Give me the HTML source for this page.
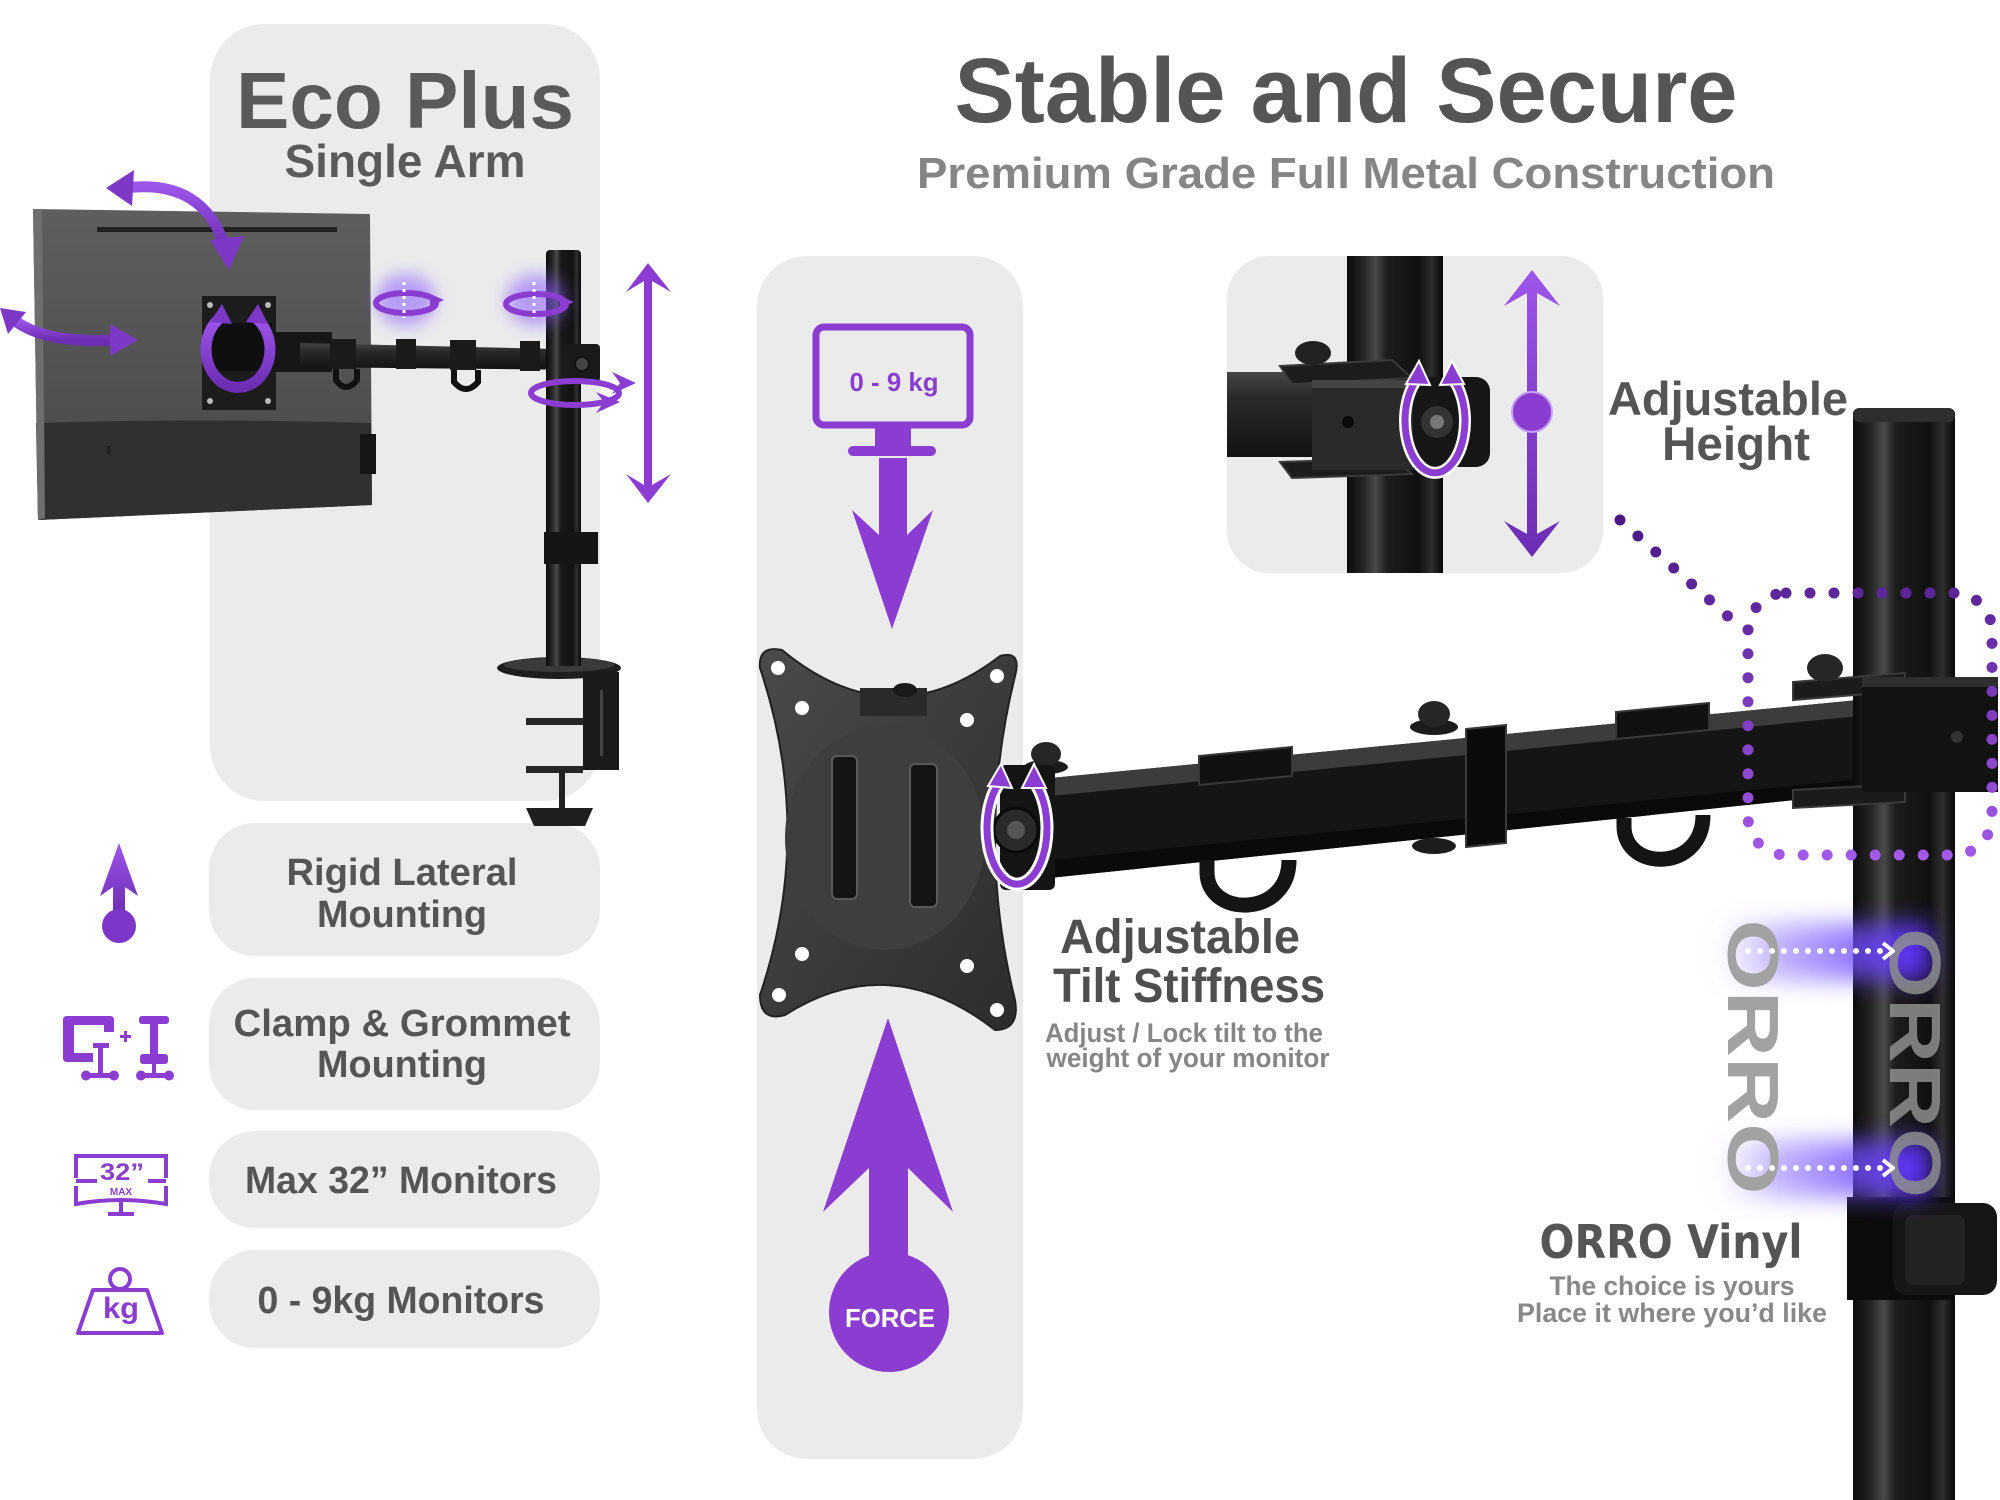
<!DOCTYPE html>
<html><head><meta charset="utf-8"><style>
html,body{margin:0;padding:0;background:#fff;}
svg{display:block;}
text{font-family:"Liberation Sans",Arial,sans-serif;}
</style></head><body>
<svg width="2000" height="1500" viewBox="0 0 2000 1500" xmlns="http://www.w3.org/2000/svg">
<defs>
 <linearGradient id="pole" x1="0" x2="1" y1="0" y2="0">
  <stop offset="0" stop-color="#0a0a0a"/>
  <stop offset="0.18" stop-color="#262626"/>
  <stop offset="0.3" stop-color="#4a4a4a"/>
  <stop offset="0.42" stop-color="#1c1c1c"/>
  <stop offset="0.75" stop-color="#101010"/>
  <stop offset="0.88" stop-color="#2e2e2e"/>
  <stop offset="1" stop-color="#070707"/>
 </linearGradient>
 <linearGradient id="purp" x1="0" y1="0" x2="0" y2="1">
  <stop offset="0" stop-color="#9d55ea"/>
  <stop offset="1" stop-color="#6c2cb3"/>
 </linearGradient>
 <linearGradient id="tube" x1="0" y1="0" x2="0" y2="1">
  <stop offset="0" stop-color="#454545"/>
  <stop offset="0.3" stop-color="#2a2a2a"/>
  <stop offset="1" stop-color="#121212"/>
 </linearGradient>
 <linearGradient id="dots" gradientUnits="userSpaceOnUse" x1="0" y1="520" x2="0" y2="860">
  <stop offset="0" stop-color="#4a1785"/>
  <stop offset="1" stop-color="#a45ae8"/>
 </linearGradient>
 <linearGradient id="mon" x1="0" y1="0" x2="0" y2="1">
  <stop offset="0" stop-color="#5e5e5e"/>
  <stop offset="1" stop-color="#474747"/>
 </linearGradient>
 <linearGradient id="plate" x1="0" y1="0" x2="1" y2="1">
  <stop offset="0" stop-color="#4a4a4a"/>
  <stop offset="1" stop-color="#2c2c2c"/>
 </linearGradient>
 <linearGradient id="band" x1="0" x2="1" y1="0" y2="0">
  <stop offset="0" stop-color="#8a6bff" stop-opacity="0"/>
  <stop offset="0.3" stop-color="#8a6bff" stop-opacity="0.55"/>
  <stop offset="1" stop-color="#5a2cff" stop-opacity="1"/>
 </linearGradient>
 <filter id="blur8" x="-50%" y="-50%" width="200%" height="200%"><feGaussianBlur stdDeviation="8"/></filter>
 <filter id="blur12" x="-50%" y="-50%" width="200%" height="200%"><feGaussianBlur stdDeviation="12"/></filter>
 <clipPath id="insetClip"><rect x="1227" y="256" width="376" height="317" rx="42"/></clipPath>
</defs>

<!-- panels -->
<rect x="210" y="24" width="390" height="777" rx="55" fill="#ebebeb"/>
<rect x="209" y="823" width="391" height="133" rx="46" fill="#ebebeb"/>
<rect x="209" y="978" width="391" height="132" rx="46" fill="#ebebeb"/>
<rect x="209" y="1131" width="391" height="97" rx="46" fill="#ebebeb"/>
<rect x="209" y="1250" width="391" height="98" rx="46" fill="#ebebeb"/>
<rect x="757" y="256" width="266" height="1203" rx="50" fill="#ebebeb"/>
<rect x="1227" y="256" width="376" height="317" rx="42" fill="#ebebeb"/>

<!-- titles -->
<text x="405" y="128" font-size="80" font-weight="bold" fill="#5a5a5a" text-anchor="middle" textLength="338" lengthAdjust="spacingAndGlyphs">Eco Plus</text>
<text x="405" y="177" font-size="46" font-weight="bold" fill="#5a5a5a" text-anchor="middle" textLength="241" lengthAdjust="spacingAndGlyphs">Single Arm</text>
<text x="1346" y="122" font-size="92" font-weight="bold" fill="#555" text-anchor="middle" textLength="783" lengthAdjust="spacingAndGlyphs">Stable and Secure</text>
<text x="1346" y="188" font-size="44" font-weight="bold" fill="#858585" text-anchor="middle" textLength="858" lengthAdjust="spacingAndGlyphs">Premium Grade Full Metal Construction</text>

<!-- pill texts -->
<g font-size="38" font-weight="bold" fill="#555" text-anchor="middle">
 <text x="402" y="885" textLength="231" lengthAdjust="spacingAndGlyphs">Rigid Lateral</text>
 <text x="402" y="927" textLength="170" lengthAdjust="spacingAndGlyphs">Mounting</text>
 <text x="402" y="1036" textLength="337" lengthAdjust="spacingAndGlyphs">Clamp &amp; Grommet</text>
 <text x="402" y="1077" textLength="170" lengthAdjust="spacingAndGlyphs">Mounting</text>
 <text x="401" y="1193" textLength="312" lengthAdjust="spacingAndGlyphs">Max 32” Monitors</text>
 <text x="401" y="1313" textLength="287" lengthAdjust="spacingAndGlyphs">0 - 9kg Monitors</text>
</g>

<!-- left icons -->
<polygon points="119,843 138,896 125,887 125,915 113,915 113,887 100,896" fill="url(#purp)"/>
<circle cx="119" cy="926" r="17" fill="#7d36c8"/>
<g fill="#8a3dd0">
 <path d="M63 1020 Q63 1016 67 1016 L110 1016 Q114 1016 114 1020 L114 1032 L104 1032 L104 1025 L74 1025 L74 1053 L93 1053 L93 1062 L67 1062 Q63 1062 63 1058 Z"/>
 <rect x="93" y="1043" width="16" height="5"/>
 <rect x="98" y="1043" width="5" height="32"/>
 <rect x="86" y="1073" width="28" height="5"/>
 <circle cx="86" cy="1075.5" r="5"/><circle cx="114" cy="1075.5" r="5"/>
 <rect x="120" y="1035" width="11" height="3"/><rect x="124" y="1031" width="3" height="11"/>
 <rect x="139" y="1016" width="30" height="8" rx="3"/>
 <rect x="150" y="1016" width="8" height="40"/>
 <rect x="140" y="1054" width="28" height="10" rx="3"/>
 <rect x="152" y="1064" width="4" height="11"/>
 <rect x="141" y="1073" width="28" height="5"/>
 <circle cx="141" cy="1075.5" r="5"/><circle cx="169" cy="1075.5" r="5"/>
</g>
<g stroke="#8a3dd0" stroke-width="4" fill="none">
 <path d="M76 1178 L76 1156 L166 1156 L166 1178"/>
 <path d="M76 1186 L76 1204 Q121 1196 166 1204 L166 1186"/>
 <line x1="76" y1="1181" x2="97" y2="1181"/>
 <line x1="148" y1="1181" x2="166" y2="1181"/>
 <line x1="121" y1="1201" x2="121" y2="1212"/>
 <line x1="108" y1="1214" x2="134" y2="1214"/>
</g>
<text x="122" y="1180" font-size="24" font-weight="bold" fill="#8a3dd0" text-anchor="middle" textLength="44" lengthAdjust="spacingAndGlyphs">32”</text>
<text x="121" y="1195" font-size="10" font-weight="bold" fill="#8a3dd0" text-anchor="middle">MAX</text>
<g stroke="#8a3dd0" stroke-width="4" fill="none" stroke-linejoin="round">
 <circle cx="120" cy="1279" r="10"/>
 <path d="M93 1290 L147 1290 L162 1333 L78 1333 Z"/>
</g>
<text x="121" y="1318" font-size="30" font-weight="bold" fill="#8a3dd0" text-anchor="middle" textLength="36" lengthAdjust="spacingAndGlyphs">kg</text>

<!-- ===== top-left monitor illustration ===== -->
<path d="M33 209 L370 214 L372 505 L38 520 Z" fill="url(#mon)"/>
<path d="M36 423 Q200 418 371 423 L372 505 L38 520 Z" fill="#303030"/>
<path d="M33 209 L42 209 L45 518 L38 520 Z" fill="#6e6e6e"/>
<rect x="97" y="227" width="240" height="5" fill="#222"/>
<rect x="360" y="434" width="16" height="40" fill="#161616"/>
<rect x="107" y="446" width="4" height="8" fill="#222"/>
<rect x="202" y="296" width="74" height="114" fill="#1c1c1c"/>
<g fill="#bbb"><circle cx="210" cy="305" r="3"/><circle cx="268" cy="305" r="3"/><circle cx="210" cy="401" r="3"/><circle cx="268" cy="401" r="3"/></g>
<rect x="212" y="323" width="60" height="48" fill="#0f0f0f"/>
<!-- arm -->
<rect x="266" y="332" width="66" height="40" fill="#161616"/>
<path d="M300 343 L598 350 L598 370 L300 367 Z" fill="url(#tube)"/>
<rect x="330" y="339" width="26" height="30" fill="#1a1a1a"/>
<rect x="396" y="339" width="20" height="30" fill="#1a1a1a"/>
<rect x="450" y="340" width="26" height="30" fill="#1a1a1a"/>
<rect x="520" y="341" width="20" height="30" fill="#1a1a1a"/>
<path d="M336 369 L336 380 Q346 394 357 380 L357 369" stroke="#111" stroke-width="6" fill="none"/>
<path d="M454 370 L454 382 Q466 396 478 382 L478 370" stroke="#111" stroke-width="6" fill="none"/>
<!-- pole -->
<rect x="546" y="250" width="35" height="417" rx="4" fill="url(#pole)"/>
<rect x="564" y="344" width="36" height="38" rx="4" fill="#1a1a1a"/>
<circle cx="582" cy="364" r="7" fill="#444" stroke="#111" stroke-width="2"/>
<rect x="544" y="532" width="54" height="32" fill="#151515"/>
<ellipse cx="559" cy="668" rx="62" ry="11" fill="#1e1e1e"/>
<ellipse cx="559" cy="665" rx="55" ry="7" fill="#3a3a3a"/>
<rect x="546" y="600" width="35" height="66" fill="url(#pole)"/>
<rect x="583" y="672" width="36" height="98" fill="#1a1a1a"/>
<rect x="600" y="690" width="3" height="66" fill="#444"/>
<rect x="526" y="718" width="57" height="7" fill="#262626"/>
<rect x="526" y="766" width="57" height="7" fill="#262626"/>
<rect x="559" y="770" width="6" height="38" fill="#222"/>
<path d="M526 808 L593 808 L585 826 L534 826 Z" fill="#1e1e1e"/>

<!-- top-left purple arrows -->
<g stroke="url(#purp)" stroke-width="11" fill="none" stroke-linecap="round">
 <path d="M125 188 Q205 178 226 250"/>
 <path d="M14 320 Q45 344 116 340"/>
 <path d="M220 318 A32 38 0 1 0 256 318"/>
</g>
<polygon points="648,263 671,292 652,281 652,485 671,474 648,503 626,474 644,485 644,281 626,292" fill="#8a3dd0"/>
<g fill="#7d38c6">
 <polygon points="106,188 134,170 132,206"/>
 <polygon points="210,240 244,236 229,270"/>
 <polygon points="0,308 26,312 8,334"/>
 <polygon points="110,324 138,340 110,356"/>
 <polygon points="210,322 222,304 232,324"/>
 <polygon points="246,322 258,304 268,324"/>
</g>
<!-- swivel glows -->
<ellipse cx="406" cy="300" rx="30" ry="26" fill="#8a5cff" opacity="0.55" filter="url(#blur8)"/>
<ellipse cx="536" cy="300" rx="30" ry="26" fill="#8a5cff" opacity="0.55" filter="url(#blur8)"/>
<g stroke="#8a3dd0" stroke-width="6" fill="none">
 <ellipse cx="406" cy="303" rx="30" ry="10"/>
 <ellipse cx="536" cy="304" rx="30" ry="10"/>
 <ellipse cx="575" cy="393" rx="44" ry="12"/>
</g>
<g stroke="#fff" stroke-width="3" stroke-dasharray="3 4">
 <line x1="404" y1="282" x2="404" y2="318"/>
 <line x1="534" y1="282" x2="534" y2="318"/>
</g>
<g fill="#8a3dd0">
 <polygon points="430,294 444,300 430,306"/>
 <polygon points="560,296 574,302 560,308"/>
 <polygon points="612,372 636,383 612,394 620,383"/>
 <polygon points="596,392 620,402 596,413 604,402"/>
</g>

<!-- ===== center panel ===== -->
<rect x="816" y="327" width="154" height="98" rx="8" fill="none" stroke="#8a3dd0" stroke-width="7"/>
<text x="894" y="391" font-size="26" font-weight="bold" fill="#8a3dd0" text-anchor="middle" textLength="89" lengthAdjust="spacingAndGlyphs">0 - 9 kg</text>
<rect x="875" y="425" width="36" height="22" fill="#8a3dd0"/>
<rect x="848" y="446" width="88" height="10" rx="5" fill="#8a3dd0"/>
<polygon points="879,458 907,458 907,535 933,510 892,629 852,510 879,535" fill="#8a3dd0"/>
<polygon points="888,1018 953,1212 908,1168 908,1272 869,1272 869,1168 823,1212" fill="#8a3dd0"/>
<circle cx="889" cy="1312" r="60" fill="#8a3dd0"/>
<text x="890" y="1327" font-size="26" font-weight="bold" fill="#fff" text-anchor="middle" textLength="90" lengthAdjust="spacingAndGlyphs">FORCE</text>

<!-- ===== main arm ===== -->
<polygon points="1030,780 1900,696 1900,789 1030,880" fill="#151515"/>
<polygon points="1030,780 1900,696 1900,712 1030,798" fill="#3c3c3c"/>
<polygon points="1030,862 1900,775 1900,789 1030,880" fill="#0a0a0a"/>
<!-- clips -->
<polygon points="1199,756 1292,747 1292,776 1199,785" fill="#111" stroke="#383838" stroke-width="2"/>
<polygon points="1616,712 1709,703 1709,730 1616,739" fill="#111" stroke="#383838" stroke-width="2"/>
<path d="M1207 860 L1207 872 C1207 918 1289 918 1289 860" stroke="#141414" stroke-width="15" fill="none"/>
<path d="M1624 818 L1624 826 C1624 872 1703 872 1703 815" stroke="#141414" stroke-width="15" fill="none"/>
<!-- middle joint -->
<polygon points="1466,729 1506,725 1506,843 1466,847" fill="#0b0b0b" stroke="#3a3a3a" stroke-width="2"/>
<ellipse cx="1434" cy="727" rx="24" ry="8" fill="#1c1c1c"/>
<ellipse cx="1434" cy="714" rx="16" ry="13" fill="#262626"/>
<ellipse cx="1434" cy="846" rx="22" ry="8" fill="#1c1c1c"/>
<!-- left knob -->
<ellipse cx="1046" cy="767" rx="22" ry="7" fill="#1c1c1c"/>
<ellipse cx="1046" cy="754" rx="15" ry="12" fill="#262626"/>
<!-- pole -->
<rect x="1853" y="412" width="102" height="1088" fill="url(#pole)"/>
<rect x="1853" y="408" width="102" height="14" rx="6" fill="#2e2e2e"/>
<!-- pole joint -->
<polygon points="1793,682 1905,673 1905,691 1793,700" fill="#1b1b1b" stroke="#3a3a3a" stroke-width="2"/>
<ellipse cx="1825" cy="668" rx="18" ry="14" fill="#262626"/>
<polygon points="1793,790 1905,784 1905,802 1793,808" fill="#1b1b1b" stroke="#3a3a3a" stroke-width="2"/>
<rect x="1862" y="677" width="136" height="115" fill="#121212"/>
<rect x="1862" y="677" width="136" height="10" fill="#2e2e2e"/>
<circle cx="1957" cy="737" r="6" fill="#333"/>
<!-- pole bottom clamp -->
<rect x="1847" y="1197" width="108" height="103" fill="#0c0c0c"/>
<rect x="1893" y="1203" width="104" height="92" rx="14" fill="#161616"/>
<rect x="1905" y="1215" width="60" height="70" rx="8" fill="#222"/>

<!-- VESA plate -->
<path d="M760 668 Q758 645 782 650 Q891 740 1000 656 Q1022 650 1015 676 Q975 838 1015 1000 Q1020 1030 995 1030 Q890 948 785 1015 Q760 1022 760 995 Q815 832 760 668 Z" fill="url(#plate)" stroke="#222" stroke-width="2"/>
<ellipse cx="885" cy="838" rx="100" ry="112" fill="#3e3e3e"/>
<rect x="860" y="688" width="67" height="28" fill="#2a2a2a"/>
<ellipse cx="905" cy="690" rx="12" ry="7" fill="#1a1a1a"/>
<rect x="832" y="756" width="25" height="143" rx="5" fill="#141414" stroke="#5a5a5a" stroke-width="2"/>
<rect x="910" y="764" width="27" height="143" rx="5" fill="#141414" stroke="#5a5a5a" stroke-width="2"/>
<g fill="#fff">
 <circle cx="778" cy="668" r="7"/><circle cx="997" cy="676" r="7"/>
 <circle cx="779" cy="995" r="7"/><circle cx="997" cy="1010" r="7"/>
 <circle cx="802" cy="708" r="7"/><circle cx="967" cy="720" r="7"/>
 <circle cx="802" cy="954" r="7"/><circle cx="967" cy="966" r="7"/>
</g>
<!-- tilt joint -->
<rect x="1000" y="765" width="55" height="125" rx="6" fill="#141414"/>
<circle cx="1016" cy="830" r="22" fill="#2a2a2a" stroke="#0a0a0a" stroke-width="3"/>
<circle cx="1016" cy="830" r="9" fill="#555"/>
<path d="M1000 782 A30 56 0 1 0 1034 782" stroke="#fff" stroke-width="13" fill="none"/>
<path d="M1000 782 A30 56 0 1 0 1034 782" stroke="#8a3dd0" stroke-width="7" fill="none"/>
<polygon points="988,786 1001,764 1012,788" fill="#8a3dd0" stroke="#fff" stroke-width="2"/>
<polygon points="1022,788 1034,764 1046,788" fill="#8a3dd0" stroke="#fff" stroke-width="2"/>

<!-- tilt text -->
<g fill="#4f4f4f" font-weight="bold" font-size="48" text-anchor="middle">
 <text x="1180" y="953" textLength="240" lengthAdjust="spacingAndGlyphs">Adjustable</text>
 <text x="1189" y="1002" textLength="272" lengthAdjust="spacingAndGlyphs">Tilt Stiffness</text>
</g>
<g fill="#868686" font-weight="bold" font-size="27" text-anchor="middle">
 <text x="1184" y="1042" textLength="278" lengthAdjust="spacingAndGlyphs">Adjust / Lock tilt to the</text>
 <text x="1188" y="1067" textLength="283" lengthAdjust="spacingAndGlyphs">weight of your monitor</text>
</g>

<!-- inset panel contents -->
<g clip-path="url(#insetClip)">
 <rect x="1347" y="256" width="96" height="317" fill="url(#pole)"/>
 <rect x="1227" y="372" width="90" height="85" fill="url(#tube)"/>
 <polygon points="1280,366 1392,360 1412,378 1292,384" fill="#1c1c1c" stroke="#3a3a3a" stroke-width="2"/>
 <ellipse cx="1313" cy="353" rx="18" ry="12" fill="#222"/>
 <polygon points="1280,462 1392,458 1412,474 1292,478" fill="#1c1c1c" stroke="#3a3a3a" stroke-width="2"/>
 <rect x="1312" y="380" width="101" height="90" fill="#2a2a2a"/>
 <rect x="1312" y="380" width="101" height="8" fill="#444"/>
 <circle cx="1348" cy="422" r="6" fill="#0a0a0a"/>
 <rect x="1413" y="377" width="77" height="90" rx="14" fill="#161616"/>
 <circle cx="1437" cy="422" r="16" fill="#333"/>
 <circle cx="1437" cy="422" r="7" fill="#777"/>
 <path d="M1418 378 A30 52 0 1 0 1452 378" stroke="#fff" stroke-width="12" fill="none"/>
 <path d="M1418 378 A30 52 0 1 0 1452 378" stroke="#8a3dd0" stroke-width="7" fill="none"/>
 <polygon points="1406,384 1419,361 1430,385" fill="#8a3dd0" stroke="#fff" stroke-width="2"/>
 <polygon points="1440,385 1452,361 1464,384" fill="#8a3dd0" stroke="#fff" stroke-width="2"/>
 <polygon points="1532,270 1560,306 1537,293 1537,534 1560,521 1532,557 1504,521 1527,534 1527,293 1504,306" fill="url(#purp)"/>
 <circle cx="1532" cy="412" r="20" fill="#8a3dd0" stroke="#c9a3f5" stroke-width="2"/>
</g>

<!-- adjustable height text -->
<g fill="#555" font-weight="bold" font-size="47" text-anchor="middle">
 <text x="1728" y="415" textLength="240" lengthAdjust="spacingAndGlyphs">Adjustable</text>
 <text x="1736" y="460" textLength="148" lengthAdjust="spacingAndGlyphs">Height</text>
</g>

<!-- dotted connectors -->
<g stroke="url(#dots)" stroke-width="11" stroke-linecap="round" fill="none" stroke-dasharray="0 24">
 <line x1="1620" y1="520" x2="1732" y2="620"/>
 <rect x="1748" y="593" width="244" height="262" rx="38"/>
</g>

<!-- ORRO vinyl glows and logos -->
<rect x="1720" y="924" width="210" height="56" fill="url(#band)" filter="url(#blur12)"/>
<rect x="1720" y="1141" width="210" height="56" fill="url(#band)" filter="url(#blur12)"/>
<text transform="translate(1752,1057) rotate(90)" font-size="72" font-weight="bold" fill="#a2a2a2" text-anchor="middle" dominant-baseline="central" textLength="275" lengthAdjust="spacingAndGlyphs">ORRO</text>
<text transform="translate(1914,1063) rotate(90)" font-size="72" font-weight="bold" fill="#8e8e8e" fill-opacity="0.85" text-anchor="middle" dominant-baseline="central" textLength="270" lengthAdjust="spacingAndGlyphs">ORRO</text>
<g stroke="#fff" stroke-width="6" stroke-linecap="round" stroke-dasharray="0 12" fill="none">
 <line x1="1748" y1="951" x2="1884" y2="951"/>
 <line x1="1748" y1="1168" x2="1884" y2="1168"/>
</g>
<g stroke="#fff" stroke-width="4" fill="none" stroke-linejoin="round">
 <polyline points="1883,943 1893,951 1883,959"/>
 <polyline points="1883,1160 1893,1168 1883,1176"/>
</g>
<text x="1671" y="1258" font-size="46" font-weight="bold" fill="#555" text-anchor="middle" textLength="263" lengthAdjust="spacingAndGlyphs" style="font-family:'DejaVu Sans','Liberation Sans',sans-serif">ORRO Vinyl</text>
<g fill="#888" font-weight="bold" font-size="27" text-anchor="middle" style="font-family:'DejaVu Sans','Liberation Sans',sans-serif">
 <text x="1672" y="1295" textLength="245" lengthAdjust="spacingAndGlyphs">The choice is yours</text>
 <text x="1672" y="1322" textLength="310" lengthAdjust="spacingAndGlyphs">Place it where you’d like</text>
</g>
</svg>
</body></html>
